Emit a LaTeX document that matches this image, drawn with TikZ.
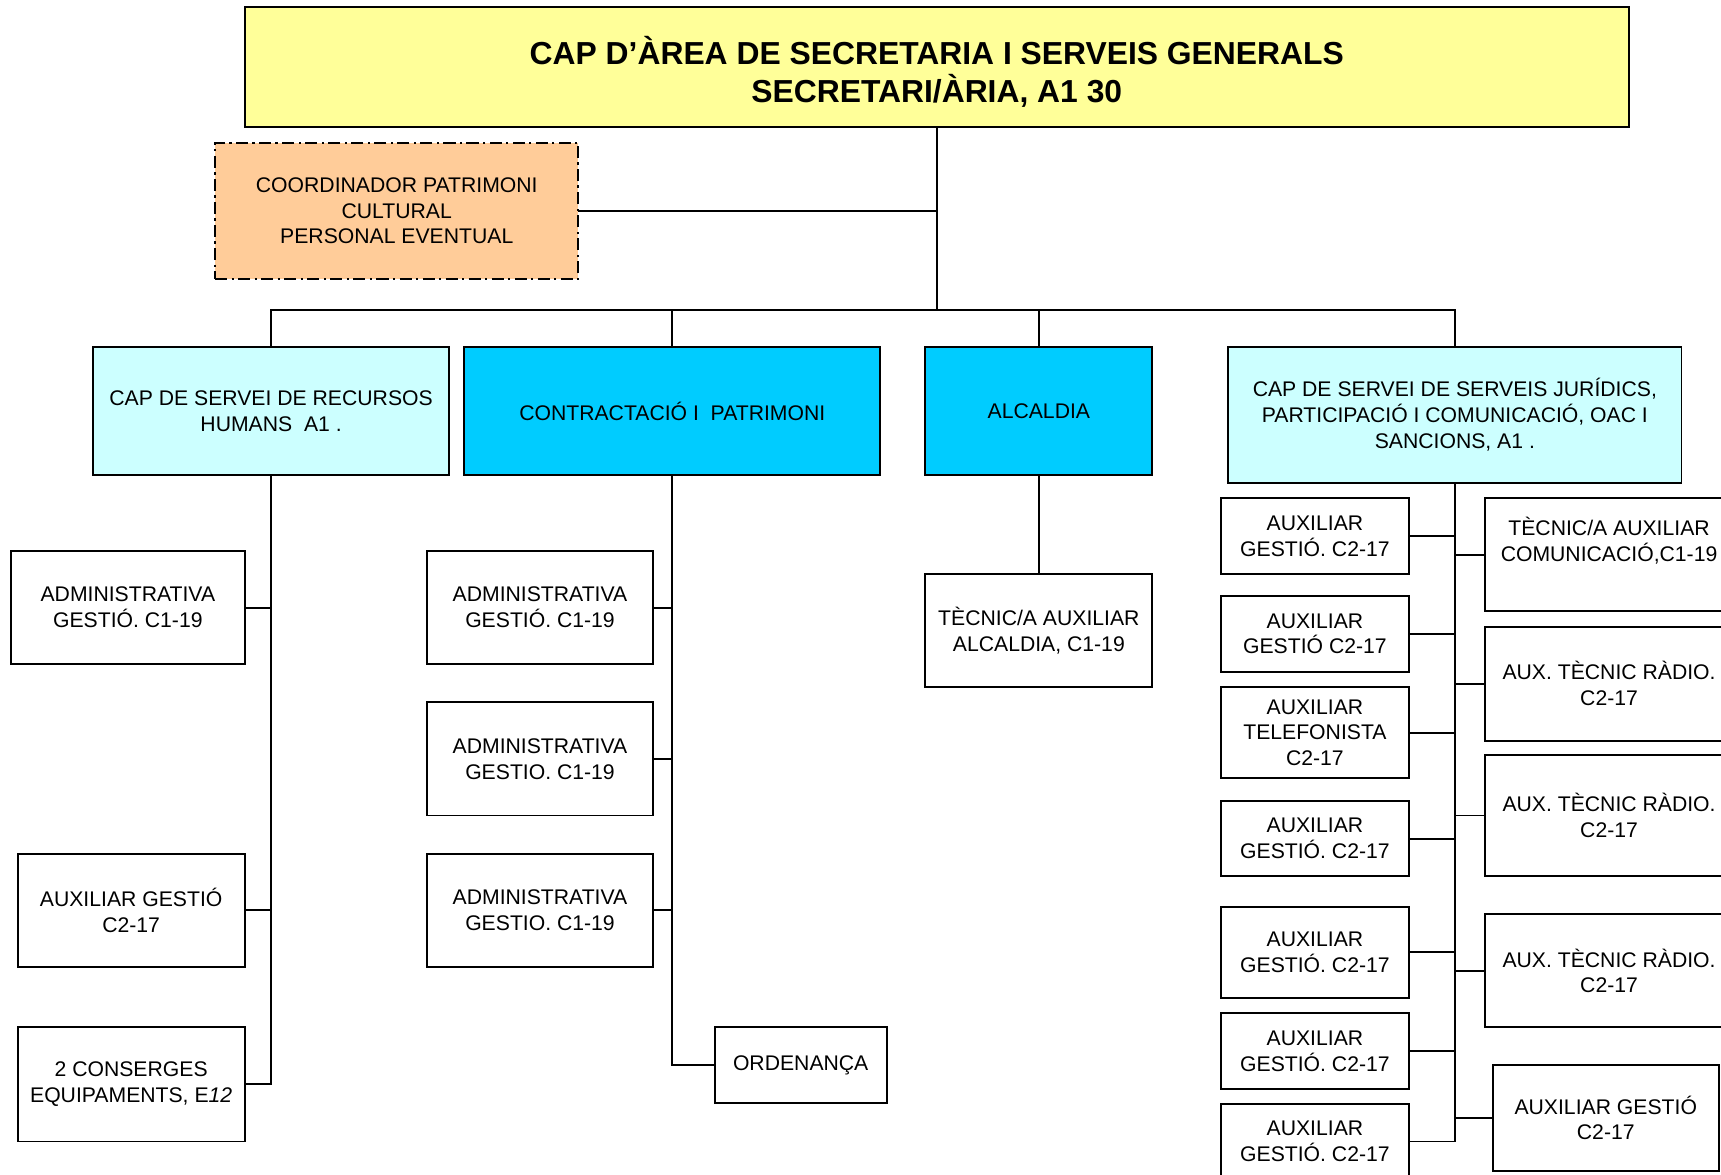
\documentclass[tikz,border=0pt]{standalone}
\usepackage{fontspec}
\setmainfont{Liberation Sans}
\usetikzlibrary{calc}
\definecolor{ttl}{HTML}{FFFF99}
\definecolor{peach}{HTML}{FFCC99}
\definecolor{lcyan}{HTML}{CCFFFF}
\definecolor{dcyan}{HTML}{00CCFF}
\newcommand\bx[7]{%
  \pgfmathsetmacro\bxcx{(#2+#4)/2}%
  \pgfmathsetmacro\bxcy{(#3+#5)/2}%
  \pgfmathsetmacro\bxw{#4-#2}%
  \pgfmathsetmacro\bxh{#5-#3}%
  \node[box,#6,minimum width=\bxw pt,minimum height=\bxh pt] (#1) at (\bxcx,\bxcy) {#7};%
}
\begin{document}
\begin{tikzpicture}[x=1pt,y=-1pt,
  box/.style={draw=black,line width=1.8pt,fill=white,inner sep=0pt,align=center,
    font=\fontsize{19.3}{23.5}\selectfont},
  txt/.style={inner sep=0pt,align=center,font=\fontsize{19.3}{23.5}\selectfont},
  ttltxt/.style={inner sep=0pt,align=center,font=\fontsize{29}{35}\selectfont\bfseries},
  ln/.style={line width=1.8pt,line cap=rect},
  dashdot/.style={dash pattern=on 11pt off 4pt on 2pt off 4pt}]
\useasboundingbox (0,0) rectangle (1568,1070);
\fill[white] (0,0) rectangle (1568,1070);
\clip (0,0) rectangle (1568,1070);

% top level
\bx{title}{223}{6}{1484}{116}{fill=ttl}{}
\node[ttltxt] (titletxt) at ($(title.center)+(0,4.5)$) {CAP D’ÀREA DE SECRETARIA I SERVEIS GENERALS\\SECRETARI/ÀRIA, A1 30};
\bx{coord}{196}{130}{527}{254}{fill=peach,dashdot}{COORDINADOR PATRIMONI\\CULTURAL\\PERSONAL EVENTUAL}

% level 2
\bx{hr}{85}{316}{409}{433}{fill=lcyan}{CAP DE SERVEI DE RECURSOS\\HUMANS\ \ A1 .}
\bx{con}{423}{316}{802}{433}{fill=dcyan}{CONTRACTACIÓ I\ \ PATRIMONI}
\bx{alc}{843}{316}{1050}{433}{fill=dcyan}{ALCALDIA}
\bx{jur}{1119}{316}{1532}{440}{fill=lcyan}{CAP DE SERVEI DE SERVEIS JURÍDICS,\\PARTICIPACIÓ I COMUNICACIÓ, OAC I\\SANCIONS, A1 .}

% HR children
\bx{a1}{10}{502}{223}{605}{}{ADMINISTRATIVA\\GESTIÓ. C1-19}
\bx{a2}{16}{778}{223}{881}{}{AUXILIAR GESTIÓ\\C2-17}
\bx{a3}{16}{936}{223}{1040}{}{2 CONSERGES\\EQUIPAMENTS, E\textit{12}}

% Contractacio children
\bx{b1}{389}{502}{595}{605}{}{ADMINISTRATIVA\\GESTIÓ. C1-19}
\bx{b2}{389}{640}{595}{743}{}{ADMINISTRATIVA\\GESTIO. C1-19}
\bx{b3}{389}{778}{595}{881}{}{ADMINISTRATIVA\\GESTIO. C1-19}
\bx{b4}{651}{936}{808}{1005}{}{ORDENANÇA}

% Alcaldia child
\bx{c1}{843}{523}{1050}{626}{}{TÈCNIC/A AUXILIAR\\ALCALDIA, C1-19}

% Juridics left column
\bx{L1}{1112}{454}{1284}{523}{}{AUXILIAR\\GESTIÓ. C2-17}
\bx{L2}{1112}{543}{1284}{612}{}{AUXILIAR\\GESTIÓ C2-17}
\bx{L3}{1112}{626}{1284}{709}{}{AUXILIAR\\TELEFONISTA\\C2-17}
\bx{L4}{1112}{730}{1284}{798}{}{AUXILIAR\\GESTIÓ. C2-17}
\bx{L5}{1112}{826}{1284}{909}{}{AUXILIAR\\GESTIÓ. C2-17}
\bx{L6}{1112}{923}{1284}{992}{}{AUXILIAR\\GESTIÓ. C2-17}
\bx{L7}{1112}{1006}{1284}{1074}{}{AUXILIAR\\GESTIÓ. C2-17}

% Juridics right column
\bx{R1}{1353}{454}{1579}{557}{}{}
\node[txt] (R1txt) at (1466,492.5) {TÈCNIC/A AUXILIAR\\COMUNICACIÓ,C1-19};
\bx{R2}{1353}{571}{1579}{675}{}{AUX. TÈCNIC RÀDIO.\\C2-17}
\bx{R3}{1353}{688}{1579}{798}{}{AUX. TÈCNIC RÀDIO.\\C2-17}
\bx{R4}{1353}{833}{1579}{936}{}{AUX. TÈCNIC RÀDIO.\\C2-17}
\bx{R5}{1360}{970}{1566}{1067}{}{AUXILIAR GESTIÓ\\C2-17}

% connectors
\coordinate (bus) at (853.5,282);
\draw[ln] (title.south) -- (bus);
\draw[ln] (coord.east) -- (coord.east -| title.south);
\draw[ln] (hr.north) |- (bus) -| (jur.north);
\draw[ln] (con.north) -- (con.north |- bus);
\draw[ln] (alc.north) -- (alc.north |- bus);

\draw[ln] (hr.south) -- (hr.south |- a3.east);
\foreach \n in {a1,a2,a3} \draw[ln] (\n.east) -- (\n.east -| hr.south);

\draw[ln] (con.south) -- (con.south |- b4.west);
\foreach \n in {b1,b2,b3} \draw[ln] (\n.east) -- (\n.east -| con.south);
\draw[ln] (b4.west) -- (b4.west -| con.south);

\draw[ln] (alc.south) -- (c1.north);

\draw[ln] (jur.south) -- (jur.south |- L7.east);
\foreach \n in {L1,L2,L3,L4,L5,L6,L7} \draw[ln] (\n.east) -- (\n.east -| jur.south);
\foreach \n in {R1,R2,R3,R4,R5} \draw[ln] (\n.west) -- (\n.west -| jur.south);
\end{tikzpicture}
\end{document}
